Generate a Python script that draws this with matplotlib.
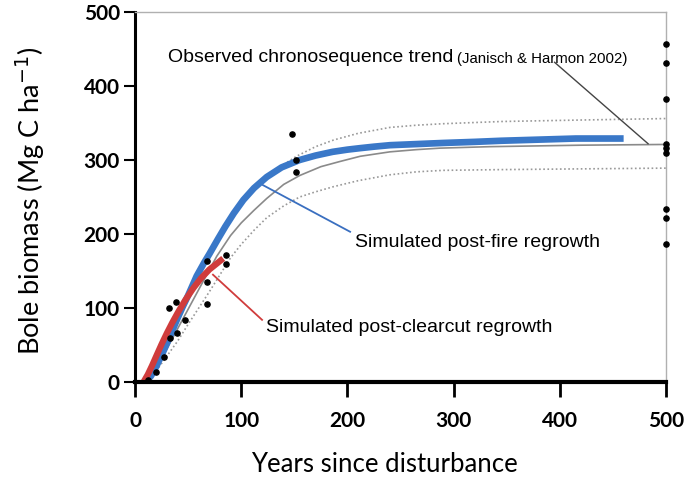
import numpy as np
import matplotlib.pyplot as plt

# observed chronosequence plots
obs_x = [12, 20, 27, 33, 40, 32, 39, 47, 68, 68, 68, 86, 86, 148, 152, 152,
         500, 500, 500, 500, 500, 500, 500, 500, 500]
obs_y = [3, 13, 34, 60, 66, 100, 108, 84, 164, 135, 105, 172, 159, 335, 284, 300,
         457, 431, 382, 322, 316, 310, 234, 222, 186]

# fitted trend (Janisch & Harmon 2002) with its band
trend_x = [8, 20, 30, 45, 60, 77, 90, 100, 112, 124, 140, 155, 175, 193, 212, 240,
           265, 287, 334, 420, 500]
trend_y = [0, 22, 45, 85, 125, 170, 198, 215, 232, 248, 267, 279, 291, 298, 305, 311,
           314, 316, 318, 320, 321]

upper_x = [130, 140, 152, 170, 187, 210, 240, 265, 290, 345, 420, 500]
upper_y = [285, 294, 305, 318, 327, 336, 344, 347, 349, 352, 354, 356]

lower_x = [20, 30, 40, 50, 60, 70, 80, 90, 100, 112, 124, 140, 155, 170, 187, 210,
           240, 265, 290, 345, 420, 500]
lower_y = [15, 35, 55, 78, 100, 122, 145, 168, 186, 205, 222, 238, 250, 257, 264, 272,
           280, 284, 286, 287, 288, 289]

# simulated regrowth
fire_x = [10, 15, 20, 25, 30, 35, 40, 45, 50, 58, 65, 70, 78, 85, 93, 102, 112, 124,
          138, 155, 170, 186, 200, 212, 225, 240, 265, 290, 320, 345, 380, 415, 460]
fire_y = [0, 8, 21, 36, 52, 69, 86, 102, 117, 143, 161, 173, 193, 210, 228, 246, 262, 277,
          290, 300, 306, 311, 314, 316, 318, 320, 321.5, 323, 324.5, 326, 327.5, 329, 329]

cut_x = [8, 12, 16, 20, 25, 30, 35, 40, 47, 55, 62, 70, 77, 83]
cut_y = [0, 10, 22, 35, 51, 66, 80, 93, 110, 127, 140, 152, 160, 167]

fig = plt.figure(figsize=(6.97, 4.79), dpi=100)
ax = fig.add_axes([0.1937, 0.2025, 0.762, 0.7725])

ax.plot(lower_x, lower_y, color='#999999', lw=1.2, ls=(0, (1, 1.5)))
ax.plot(upper_x, upper_y, color='#999999', lw=1.2, ls=(0, (1, 1.5)))
ax.plot(trend_x, trend_y, color='#8a8a8a', lw=1.2)
ax.plot(fire_x, fire_y, color='#3a78c8', lw=4.8, solid_capstyle='butt', solid_joinstyle='round')
ax.plot(cut_x, cut_y, color='#d03c3c', lw=4.5, solid_capstyle='butt', solid_joinstyle='round')
ax.scatter(obs_x, obs_y, s=14, color='black', zorder=5, clip_on=False)

txt = dict(family=['Liberation Sans', 'DejaVu Sans'], color='black')
ax.text(31, 439, 'Observed chronosequence trend', fontsize=14, va='center', **txt)
ax.text(303, 437, '(Janisch & Harmon 2002)', fontsize=10.8, va='center', **txt)
ax.plot([395, 483], [432, 322], color='#444444', lw=1)

ax.text(207, 188, 'Simulated post-fire regrowth', fontsize=14, va='center', **txt)
ax.plot([120.5, 202.5], [266, 203], color='#3a6fc0', lw=1.3)
ax.text(123, 74, 'Simulated post-clearcut regrowth', fontsize=14, va='center', **txt)
ax.plot([73.4, 119.6], [145, 84], color='#d03c3c', lw=1.3)

ax.set_xlim(0, 500)
ax.set_ylim(0, 500)
ax.set_xticks([0, 100, 200, 300, 400, 500])
ax.set_yticks([0, 100, 200, 300, 400, 500])

for s in ['left', 'bottom']:
    ax.spines[s].set_color('black')
ax.spines['left'].set_linewidth(2.2)
ax.spines['bottom'].set_linewidth(3)
for s in ['top', 'right']:
    ax.spines[s].set_color('#b0b0b0')
    ax.spines[s].set_linewidth(1)

ax.tick_params(axis='y', direction='out', length=8, width=1.5, pad=3)
ax.tick_params(axis='x', direction='out', length=11, width=2, pad=10)
for lab in ax.get_xticklabels() + ax.get_yticklabels():
    lab.set_family('Lato')
    lab.set_fontweight('bold')
    lab.set_fontsize(15)

ax.set_xlabel('Years since disturbance', family='Lato', fontsize=18.5, va='center')
ax.xaxis.set_label_coords(0.469, -0.222)
ax.set_ylabel('Bole biomass (Mg C ha$^{-1}$)', family='Lato', fontsize=19.5, va='center')
ax.yaxis.set_label_coords(-0.197, 0.49)

fig.savefig('out.png', dpi=100)
